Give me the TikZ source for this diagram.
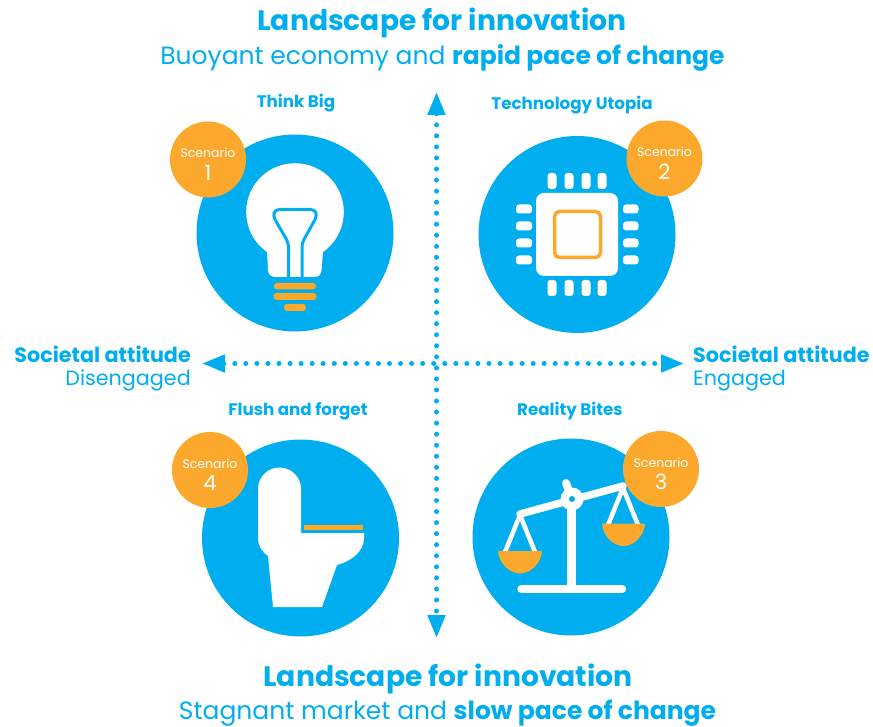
\documentclass[tikz,border=0pt]{standalone}
\usepackage{fontspec}
\setmainfont{Poppins}
\usetikzlibrary{arrows.meta}
\definecolor{skyblue}{HTML}{00AEEF}
\definecolor{amber}{HTML}{FBA82C}
\tikzstyle{scene}=[circle,fill=skyblue,minimum size=197pt,inner sep=0pt]
\tikzstyle{badge}=[circle,fill=amber,minimum size=76pt,inner sep=0pt,text=white,align=center,font=\fontsize{12.5}{14}\selectfont]
\tikzstyle{title} = [text=skyblue,font=\fontsize{16.7}{19}\selectfont\bfseries]
\tikzstyle{heading} = [text=skyblue,font=\fontsize{28.2}{32}\selectfont\bfseries]
\tikzstyle{subheading} = [text=skyblue,inner sep=0pt,font=\fontsize{25}{30}\selectfont]
\tikzstyle{side} = [text=skyblue,inner sep=0pt,font=\fontsize{20.7}{23}\selectfont,align=left]
\tikzstyle{axis} = [draw=skyblue,line width=5pt,line cap=round,dash pattern=on 0pt off 11.05pt,{Triangle[length=23pt,width=17pt]}-{Triangle[length=23pt,width=17pt]}]
\tikzstyle{wire} = [draw=skyblue,line width=3pt,line join=round]
\tikzstyle{pin} = [fill=white,rounded corners=3pt]
\tikzstyle{bar} = [fill=amber,rounded corners=3pt]
\begin{document}
\begin{tikzpicture}[x=1pt,y=-1pt]
\useasboundingbox (0,0) rectangle (873,727);
\foreach \pos/\name in {{(295,233)/sceneA}, {(577,234.5)/sceneB},
                         {(571,537)/sceneC}, {(300.5,538)/sceneD}}{
  \node[scene] (\name) at \pos {};
}
% axes
\coordinate (north) at (436.5,92);
\coordinate (south) at (436.5,638);
\coordinate (west) at (202,363.5);
\coordinate (east) at (684,363.5);
\path[axis] (north) -- (south);
\path[axis] (west) -- (east);
% bulb
\fill[white] (267,252) arc[start angle=125,end angle=415,radius=48.8]
  -- (321.5,270) arc[start angle=0,end angle=90,radius=7] -- (275,277) arc[start angle=90,end angle=180,radius=7] -- cycle;
\draw[wire,rounded corners=4pt] (288.5,277) -- (288.5,243) -- (273,216) -- (275,209.5) -- (315,209.5) -- (317,216) -- (302,243) -- (302,277);
\fill[bar] (274,283) rectangle (316,289.5);
\fill[bar] (273.5,293) rectangle (316.5,300);
\fill[bar] (284,304) rectangle (306,311);
% chip
\foreach \i in {552,569,586,602}{
  \fill[pin] (\i-4.5,173) rectangle (\i+4.5,189);
  \fill[pin] (\i-4.5,280) rectangle (\i+4.5,296);
}
\foreach \i in {209,226,243,260}{
  \fill[pin] (516,\i-4.5) rectangle (532,\i+4.5);
  \fill[pin] (623,\i-4.5) rectangle (638.5,\i+4.5);
}
\fill[white,rounded corners=8pt] (536,193) rectangle (618,276);
\draw[amber,line width=3.5pt,rounded corners=5pt] (554.5,211.5) rectangle (600.5,257.5);
% scales
\draw[white,line width=9pt] (571.5,500) -- (571.5,590);
\draw[white,line width=8.5pt,line cap=round] (521.5,589) -- (622,589);
\draw[white,line width=7.5pt,line cap=round,line join=round] (520,514) -- (623,486);
\draw[white,line width=8pt,line cap=round] (566,483) -- (572,499);
\draw[white,line width=4.5pt,line join=round] (505,552) -- (520,515) -- (535,552);
\draw[white,line width=4.5pt,line join=round] (608,525) -- (623,488) -- (638,525);
\fill[white] (572,499) circle (11.5);
\fill[skyblue] (572,499) circle (3);
\fill[amber] (498,551) -- (542,551) .. controls (541,564) and (530,573.5) .. (520,573.5) .. controls (510,573.5) and (499,564) .. (498,551) -- cycle;
\fill[amber] (602,523.5) -- (645,523.5) .. controls (644,537) and (633,546) .. (623.5,546) .. controls (614,546) and (603,537) .. (602,523.5) -- cycle;
% toilet
\fill[white] (301,533) -- (301,489) arc[start angle=0,end angle=-180,radius=21.5] -- (258,537)
  .. controls (258,546) and (262,552) .. (268,556) -- (273,607) -- (322,607) -- (337,565)
  .. controls (352,561) and (364,551) .. (364,538) -- (364,533) -- cycle;
\fill[amber] (304,524.5) rectangle (363,530);
% badges
\foreach \pos/\name/\num in {{(208,159.5)/badgeA/1}, {(664.5,158.5)/badgeB/2},
                         {(661,469)/badgeC/3}, {(210,470)/badgeD/4}}{
  \node[badge] (\name) at \pos {\rule{0pt}{19pt}Scenario\\[6pt]{\fontsize{21}{22}\selectfont\num}};
}
% labels
\node[heading] (headN) at (442,23) {Landscape for innovation};
\node[subheading] (subN) at (442.5,58) {Buoyant economy and \textbf{rapid pace of change}};
\node[heading] (headS) at (448,679) {Landscape for innovation};
\node[subheading] (subS) at (447.5,713) {Stagnant market and \textbf{slow pace of change}};
\node[title] (titleA) at (296,103.5) {Think Big};
\node[title] (titleB) at (572,105.5) {Technology Utopia};
\node[title] (titleD) at (298,411.5) {Flush and forget};
\node[title] (titleC) at (570,411.5) {Reality Bites};
\node[side,anchor=east,align=right] (sideW) at (191,369) {\textbf{Societal attitude}\\Disengaged};
\node[side,anchor=west] (sideE) at (693,369) {\textbf{Societal attitude}\\Engaged};
\end{tikzpicture}
\end{document}
